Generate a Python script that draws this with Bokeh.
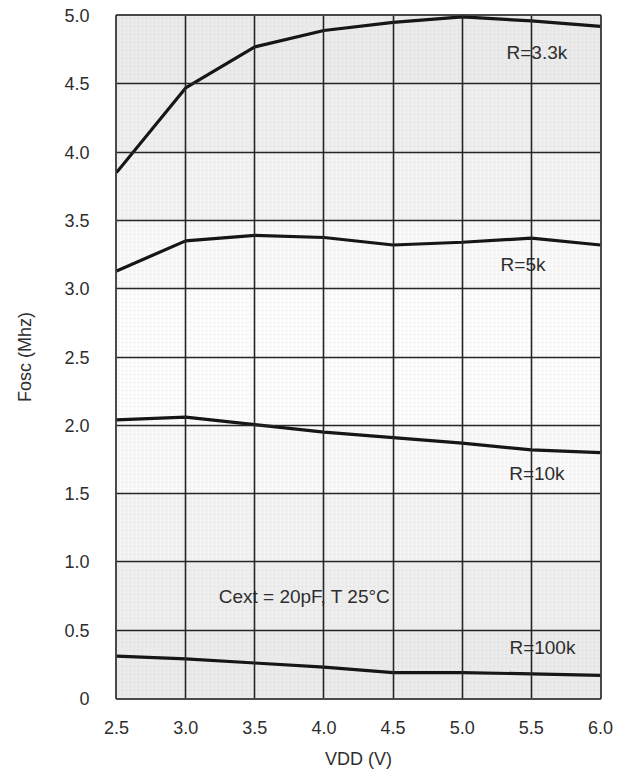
from bokeh.plotting import figure
from bokeh.models import FixedTicker, Range1d, NumeralTickFormatter
from bokeh.core.properties import value
from bokeh.embed import file_html
from bokeh.resources import INLINE

vdd = [2.5, 3.0, 3.5, 4.0, 4.5, 5.0, 5.5, 6.0]
r_3k3 = [3.85, 4.47, 4.77, 4.89, 4.95, 4.99, 4.96, 4.92]
r_5k = [3.13, 3.35, 3.39, 3.375, 3.32, 3.34, 3.37, 3.32]
r_10k = [2.04, 2.06, 2.005, 1.95, 1.91, 1.87, 1.82, 1.80]
r_100k = [0.31, 0.29, 0.26, 0.23, 0.19, 0.19, 0.18, 0.17]

labels = ["R=3.3k", "R=5k", "R=10k", "R=100k", "Cext = 20pF, T 25\u00b0C"]
label_x = [5.54, 5.44, 5.54, 5.58, 3.86]
label_y = [4.73, 3.18, 1.65, 0.37, 0.75]

x_ticks = [2.5, 3.0, 3.5, 4.0, 4.5, 5.0, 5.5, 6.0]
y_ticks = [0, 0.5, 1.0, 1.5, 2.0, 2.5, 3.0, 3.5, 4.0, 4.5, 5.0]

# background stipple bands (bottom, top, fill)
band_bottom = [0.0, 0.5, 1.0, 1.5, 2.0, 3.0, 3.5, 4.0, 4.5]
band_top = [0.5, 1.0, 1.5, 2.0, 3.0, 3.5, 4.0, 4.5, 5.0]
band_fill = ["#ebebeb", "#eeeeee", "#f3f3f3", "#f9f9f9", "#fdfdfd",
             "#f9f9f9", "#f3f3f3", "#eeeeee", "#ebebeb"]

FONT = "Liberation Sans"

p = figure(width=635, height=776, output_backend="svg", toolbar_location=None,
           x_range=Range1d(2.5, 6.0), y_range=Range1d(0, 5.0),
           min_border_left=116, min_border_right=35, min_border_top=15, min_border_bottom=78)
p.background_fill_color = "white"
p.border_fill_color = "white"

p.quad(left=2.5, right=6.0, bottom=band_bottom, top=band_top, fill_color=band_fill,
       line_color=None, hatch_pattern=".", hatch_color="#c4c4c4", hatch_scale=4, hatch_alpha=0.25)

p.xgrid.ticker = FixedTicker(ticks=x_ticks)
p.ygrid.ticker = FixedTicker(ticks=y_ticks)
for g in (p.xgrid, p.ygrid):
    g.grid_line_color = "#262626"
    g.grid_line_width = 1.6
    g.level = "glyph"

for ys in (r_3k3, r_5k, r_10k, r_100k):
    p.line(vdd, ys, line_color="#161616", line_width=3.2)

p.text(x=label_x, y=label_y, text=labels, text_font=value(FONT), text_font_size="19px",
       text_color="#2e2e2e", text_align="center", text_baseline="middle")

p.outline_line_color = "#111111"
p.outline_line_width = 2.5

p.xaxis.ticker = FixedTicker(ticks=x_ticks)
p.yaxis.ticker = FixedTicker(ticks=y_ticks)
p.xaxis.formatter = NumeralTickFormatter(format="0.0")
p.yaxis.formatter = NumeralTickFormatter(format="0.0")
p.yaxis.major_label_overrides = {0: "0"}
p.xaxis.axis_label = "VDD (V)"
p.yaxis.axis_label = "Fosc (Mhz)"
for ax in (p.xaxis, p.yaxis):
    ax.axis_line_color = None
    ax.major_tick_line_color = None
    ax.minor_tick_line_color = None
    ax.major_tick_out = 0
    ax.major_tick_in = 0
    ax.major_label_text_font = FONT
    ax.major_label_text_font_size = "18px"
    ax.major_label_text_color = "#2e2e2e"
    ax.axis_label_text_font = FONT
    ax.axis_label_text_font_size = "18px"
    ax.axis_label_text_font_style = "normal"
    ax.axis_label_text_color = "#2e2e2e"
p.xaxis.major_label_standoff = 22
p.xaxis.axis_label_standoff = 12
p.yaxis.major_label_standoff = 27
p.yaxis.axis_label_standoff = 26

open("out.html", "w").write(file_html(p, INLINE))
